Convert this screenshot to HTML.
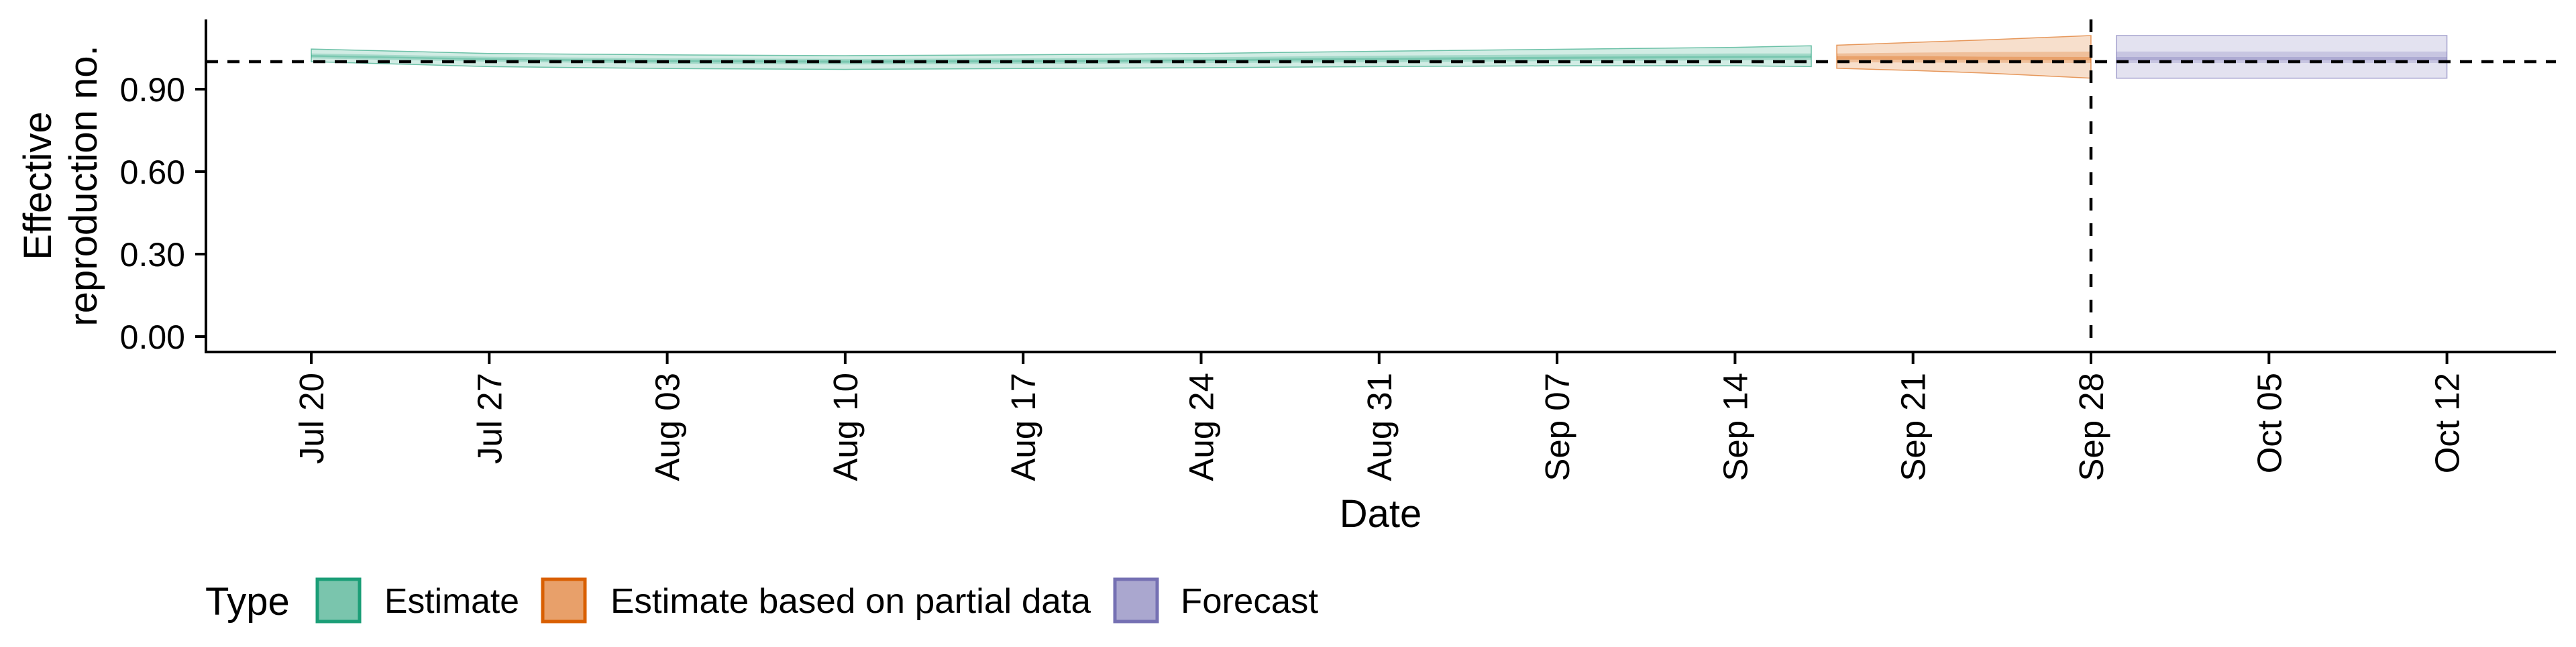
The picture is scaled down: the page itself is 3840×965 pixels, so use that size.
<!DOCTYPE html>
<html><head><meta charset="utf-8"><style>
html,body{margin:0;padding:0;background:#fff;}
svg text{font-family:"Liberation Sans",Arial,sans-serif;fill:#000;}
</style></head><body>
<svg id="chart" width="3840" height="960" viewBox="0 0 3840 960" xmlns="http://www.w3.org/2000/svg">
<g id="bands"></g>
<g id="axes"></g>
<g id="legend"></g>
</svg>
<script>
// ---- data ----
const tickLabels = ["Jul 20","Jul 27","Aug 03","Aug 10","Aug 17","Aug 24","Aug 31","Sep 07","Sep 14","Sep 21","Sep 28","Oct 05","Oct 12"];
const yTicks = [0, 0.3, 0.6, 0.9];
const yTickLabels = ["0.00","0.30","0.60","0.90"];
// day offsets from Jul 20
const estDays = [0,7,14,21,28,35,42,49,56,59];
const estUp90 = [1.046,1.030,1.025,1.022,1.025,1.030,1.038,1.045,1.052,1.058];
const estLo90 = [1.000,0.982,0.975,0.972,0.975,0.978,0.982,0.985,0.985,0.982];
const estUp50 = [1.030,1.018,1.012,1.010,1.012,1.016,1.022,1.026,1.030,1.030];
const estLo50 = [1.012,1.000,0.993,0.990,0.992,0.995,0.998,1.002,1.005,1.007];
const estUp20 = [1.024,1.012,1.006,1.004,1.006,1.009,1.014,1.018,1.021,1.022];
const estLo20 = [1.018,1.006,0.999,0.996,0.998,1.002,1.006,1.010,1.013,1.015];
const partDays = [60,63,66,70];
const partUp90 = [1.060,1.070,1.080,1.095];
const partLo90 = [0.976,0.968,0.958,0.940];
const partUp50 = [1.030,1.033,1.035,1.037];
const partLo50 = [0.998,0.997,0.996,0.995];
const partUp20 = [1.020,1.020,1.018,1.017];
const partLo20 = [1.008,1.007,1.006,1.005];
const fcDays = [71,84];
const fcUp90 = [1.095,1.095];
const fcLo90 = [0.940,0.940];
const fcUp50 = [1.037,1.037];
const fcLo50 = [0.995,0.995];
const fcUp20 = [1.017,1.017];
const fcLo20 = [1.005,1.005];
const refY = 1.0;
const refDay = 70;

// ---- scales ----
const X0 = 464, PXD = 37.9;
const x = d => X0 + d*PXD;
const Y0 = 502, PXU = 410;
const y = v => Y0 - v*PXU;
const NS = "http://www.w3.org/2000/svg";
function mk(tag, attrs, parent){const e=document.createElementNS(NS,tag);for(const k in attrs)e.setAttribute(k,attrs[k]);parent.appendChild(e);return e;}
const bands = document.getElementById('bands');
const axes = document.getElementById('axes');
const legend = document.getElementById('legend');

function band(days, up, lo, fill, op, stroke, name){
  let pts = days.map((d,i)=>x(d)+','+y(up[i]));
  for(let i=days.length-1;i>=0;i--) pts.push(x(days[i])+','+y(lo[i]));
  const p = mk('polygon',{points:pts.join(' '),fill:fill,'fill-opacity':op,stroke:stroke,'stroke-width':1.5,'stroke-opacity':0.6},bands);
  
  
}
const G="#1b9e77", O="#d95f02", P="#7570b3";
band(estDays,estUp90,estLo90,G,0.2,G,'estimate-band-90');
band(estDays,estUp50,estLo50,G,0.25,'none','estimate-band-50');
band(estDays,estUp20,estLo20,G,0.3,'none','estimate-band-20');
band(partDays,partUp90,partLo90,O,0.2,O,'partial-band-90');
band(partDays,partUp50,partLo50,O,0.25,'none','partial-band-50');
band(partDays,partUp20,partLo20,O,0.3,'none','partial-band-20');
band(fcDays,fcUp90,fcLo90,P,0.2,P,'forecast-band-90');
band(fcDays,fcUp50,fcLo50,P,0.25,'none','forecast-band-50');
band(fcDays,fcUp20,fcLo20,P,0.3,'none','forecast-band-20');

// reference lines
let l = mk('line',{x1:307,x2:3810,y1:y(refY),y2:y(refY),stroke:'#000','stroke-width':4.5,'stroke-dasharray':'18 14'},axes);


l = mk('line',{x1:x(refDay),x2:x(refDay),y1:29,y2:525,stroke:'#000','stroke-width':4.5,'stroke-dasharray':'19 19'},axes);



// axes
l = mk('line',{x1:307,x2:307,y1:29,y2:527,stroke:'#000','stroke-width':4},axes);


l = mk('line',{x1:305,x2:3810,y1:525,y2:525,stroke:'#000','stroke-width':4},axes);



yTicks.forEach((v,i)=>{
  const t = mk('line',{x1:291,x2:307,y1:y(v),y2:y(v),stroke:'#000','stroke-width':4},axes);
  
  
  const tx = mk('text',{x:276,y:y(v)+18,'text-anchor':'end','font-size':50},axes);
  tx.textContent = yTickLabels[i];
  
  
});
tickLabels.forEach((lab,i)=>{
  const xx = x(i*7);
  const t = mk('line',{x1:xx,x2:xx,y1:525,y2:543,stroke:'#000','stroke-width':4},axes);
  
  
  const tx = mk('text',{x:0,y:0,'text-anchor':'end','font-size':51,transform:`translate(${xx+18},556) rotate(-90)`},axes);
  tx.textContent = lab;
  
  
});
let t = mk('text',{x:2058,y:786,'text-anchor':'middle','font-size':58},axes);
t.textContent='Date';


t = mk('text',{'text-anchor':'middle','font-size':58,transform:'translate(76,277) rotate(-90)'},axes);
t.textContent='Effective';


t = mk('text',{'text-anchor':'middle','font-size':58,transform:'translate(144,277) rotate(-90)'},axes);
t.textContent='reproduction no.';



// legend
t = mk('text',{x:306,y:917,'font-size':58},legend);
t.textContent='Type';


const legItems = [["Estimate",G,"#7ac5ad",473,573,201],["Estimate based on partial data",O,"#e8a06a",809,910,716],["Forecast",P,"#aaa7cf",1662,1760,205]];
legItems.forEach(it=>{
  const r = mk('rect',{x:it[3],y:864,width:63,height:63,fill:it[2],stroke:it[1],'stroke-width':5},legend);
  
  
  const tx = mk('text',{x:it[4],y:914,'font-size':52,textLength:it[5],lengthAdjust:'spacingAndGlyphs'},legend);
  tx.textContent = it[0];
  
  
});
</script>
</body></html>
